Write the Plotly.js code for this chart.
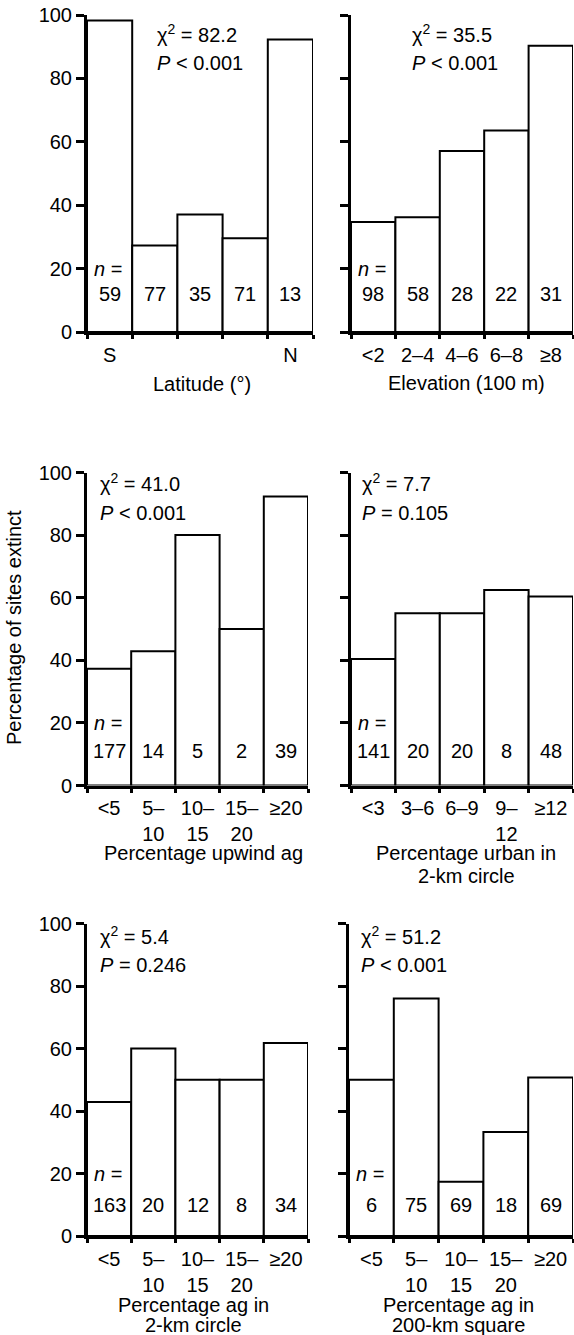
<!DOCTYPE html>
<html><head><meta charset="utf-8">
<script src="https://cdn.plot.ly/plotly-3.0.1.min.js"></script>
<style>html,body{margin:0;padding:0;background:#fff}#chart{width:574px;height:1335px}</style>
</head><body><div id="chart"></div>
<script>
// ---------- data ----------
const latLabels = ['S', '', '', '', 'N'];
const latPct = [98.3, 27.3, 37.1, 29.6, 92.3];
const latN = [59, 77, 35, 71, 13];

const elevLabels = ['&lt;2', '2–4', '4–6', '6–8', '≥8'];
const elevPct = [34.7, 36.2, 57.1, 63.6, 90.3];
const elevN = [98, 58, 28, 22, 31];

const upwindLabels = ['&lt;5', '5–<br>10', '10–<br>15', '15–<br>20', '≥20'];
const upwindPct = [37.3, 42.9, 80, 50, 92.3];
const upwindN = [177, 14, 5, 2, 39];

const urbanLabels = ['&lt;3', '3–6', '6–9', '9–<br>12', '≥12'];
const urbanPct = [40.4, 55, 55, 62.5, 60.4];
const urbanN = [141, 20, 20, 8, 48];

const ag2Labels = ['&lt;5', '5–<br>10', '10–<br>15', '15–<br>20', '≥20'];
const ag2Pct = [42.9, 60, 50, 50, 61.8];
const ag2N = [163, 20, 12, 8, 34];

const ag200Labels = ['&lt;5', '5–<br>10', '10–<br>15', '15–<br>20', '≥20'];
const ag200Pct = [50, 76, 17.4, 33.3, 50.7];
const ag200N = [6, 75, 69, 18, 69];

const chiValues = ['82.2', '35.5', '41.0', '7.7', '5.4', '51.2'];
const pTexts = ['&lt; 0.001', '&lt; 0.001', '&lt; 0.001', '= 0.105', '= 0.246', '&lt; 0.001'];
const xTitles = [['Latitude (°)'], ['Elevation (100 m)'], ['Percentage upwind ag'],
  ['Percentage urban in', '2-km circle'], ['Percentage ag in', '2-km circle'], ['Percentage ag in', '200-km square']];
const yTitle = 'Percentage of sites extinct';
const yTicks = [0, 20, 40, 60, 80, 100];

// ---------- layout geometry (pixels) ----------
const W = 574, H = 1335;
const FONT = 'Liberation Sans, Arial, Helvetica, sans-serif';
const FS = 20;
const fx = p => p / W;
const fy = p => 1 - p / H;

const series = [
  {labels: latLabels, pct: latPct, n: latN},
  {labels: elevLabels, pct: elevPct, n: elevN},
  {labels: upwindLabels, pct: upwindPct, n: upwindN},
  {labels: urbanLabels, pct: urbanPct, n: urbanN},
  {labels: ag2Labels, pct: ag2Pct, n: ag2N},
  {labels: ag200Labels, pct: ag200Pct, n: ag200N}
];
const geom = [
  {x0: 87, x1: 313, yb: 332, yt: 15, sx: 155, sy: 33, nY: 12, tx: 202, ty: [384], left: true, so: 3},
  {x0: 351, x1: 573, yb: 332, yt: 15, sx: 410, sy: 33, nY: 12, tx: 466, ty: [383], left: false, so: 3},
  {x0: 87, x1: 308, yb: 785.5, yt: 472.5, sx: 98, sy: 483, nY: 11, tx: 203, ty: [853], left: true, so: 2},
  {x0: 351, x1: 573, yb: 785.5, yt: 472.5, sx: 360, sy: 483, nY: 11, tx: 466, ty: [853, 876], left: false, so: 2},
  {x0: 87, x1: 308, yb: 1236, yt: 923.5, sx: 98, sy: 935, nY: 10, tx: 193, ty: [1305, 1325], left: true, so: 3},
  {x0: 349, x1: 573, yb: 1236, yt: 923.5, sx: 359, sy: 935, nY: 10, tx: 458, ty: [1305, 1325], left: false, so: 3}
];

const uniq = labels => labels.map((l, i) => l === '' ? ' '.repeat(i) : l);

const traces = [];
const layout = {
  width: W, height: H,
  margin: {l: 0, r: 0, t: 0, b: 0},
  paper_bgcolor: '#fff', plot_bgcolor: 'rgba(0,0,0,0)',
  showlegend: false, bargap: 0,
  font: {family: FONT, size: FS, color: '#000'},
  annotations: []
};

series.forEach((s, k) => {
  const g = geom[k];
  const sfx = k === 0 ? '' : String(k + 1);
  const cats = uniq(s.labels);
  traces.push({
    type: 'bar', x: cats, y: s.pct, xaxis: 'x' + sfx, yaxis: 'y' + sfx,
    marker: {color: '#fff', line: {color: '#000', width: 2}},
    width: 1, hoverinfo: 'skip'
  });
  layout['xaxis' + sfx] = {
    domain: [fx(g.x0), fx(g.x1)], anchor: 'y' + sfx, type: 'category',
    range: [-0.5, 4.5], showgrid: false, zeroline: false,
    showline: true, linecolor: '#000', linewidth: 3,
    ticks: 'outside', tickson: 'boundaries', ticklen: 4, tickwidth: 3, tickcolor: '#000',
    ticklabelstandoff: g.so,
    tickangle: 0, tickfont: {family: FONT, size: FS, color: '#000'}, fixedrange: true
  };
  layout['yaxis' + sfx] = {
    domain: [fy(g.yb), fy(g.yt)], anchor: 'x' + sfx,
    range: [0, 100], showgrid: false, zeroline: false,
    showline: true, linecolor: '#000', linewidth: 3,
    ticks: 'outside', ticklen: 8, tickwidth: 3, tickcolor: '#000',
    tickmode: 'array', tickvals: yTicks, showticklabels: g.left,
    tickfont: {family: FONT, size: FS, color: '#000'}, fixedrange: true
  };
  // statistics
  layout.annotations.push({
    xref: 'paper', yref: 'paper', x: fx(g.sx), y: fy(g.sy), xanchor: 'left', yanchor: 'middle',
    text: 'χ<sup>2</sup> = ' + chiValues[k], showarrow: false, font: {family: FONT, size: FS}
  });
  layout.annotations.push({
    xref: 'paper', yref: 'paper', x: fx(g.sx), y: fy(g.sy + 30), xanchor: 'left', yanchor: 'middle',
    text: '<i>P</i> ' + pTexts[k], showarrow: false, font: {family: FONT, size: FS}
  });
  // n labels
  layout.annotations.push({
    xref: 'x' + sfx, yref: 'y' + sfx, x: -0.5, y: 20, xanchor: 'left', yanchor: 'middle', xshift: 5,
    text: '<i>n</i> =', showarrow: false, font: {family: FONT, size: FS}
  });
  s.n.forEach((v, i) => {
    layout.annotations.push({
      xref: 'x' + sfx, yref: 'y' + sfx, x: i, y: g.nY, xanchor: 'center', yanchor: 'middle',
      text: String(v), showarrow: false, font: {family: FONT, size: FS}
    });
  });
  // x title lines
  xTitles[k].forEach((line, j) => {
    layout.annotations.push({
      xref: 'paper', yref: 'paper', x: fx(g.tx), y: fy(g.ty[j]), xanchor: 'center', yanchor: 'middle',
      text: line, showarrow: false, font: {family: FONT, size: FS}
    });
  });
});

layout.annotations.push({
  xref: 'paper', yref: 'paper', x: fx(14), y: fy(628), xanchor: 'center', yanchor: 'middle',
  textangle: -90, text: yTitle, showarrow: false, font: {family: FONT, size: FS}
});

Plotly.newPlot('chart', traces, layout, {staticPlot: true, displayModeBar: false});
</script>
</body></html>
